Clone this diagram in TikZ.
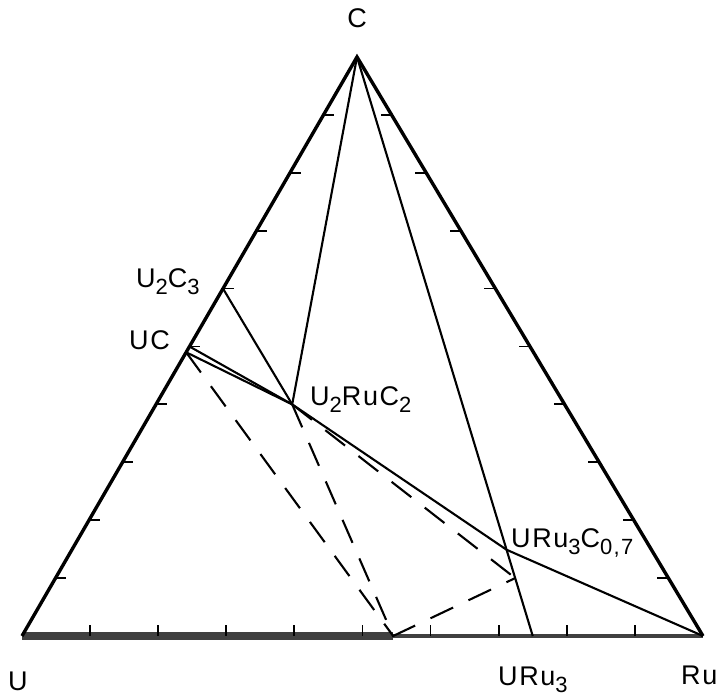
\documentclass[tikz,border=0pt]{standalone}
\usepackage{fontspec}
\setmainfont[LetterSpace=6]{Liberation Sans}
\newcommand{\idx}[1]{\raisebox{-7pt}{\fontsize{22}{23}\selectfont #1}}

\begin{document}
\begin{tikzpicture}[x=1pt,y=-1pt,
  lbl/.style={inner sep=0,font=\fontsize{27}{30}\selectfont},
  edge/.style={line width=3.4pt,line join=miter},
  tie/.style={line width=2.1pt},
  dsh/.style={line width=2.1pt,dash pattern=on 25pt off 17pt},
  tck/.style={line width=1.8pt}]
\useasboundingbox (0,0) rectangle (720,700);
\coordinate (U) at (22,636);
\coordinate (Ru) at (703,636);
\coordinate (C) at (357,57);
% phases
\coordinate (UC) at (barycentric cs:U=0.51,C=0.49);
\coordinate (UCt) at (barycentric cs:U=0.5,C=0.5);
\coordinate (U2C3) at (barycentric cs:U=0.4,C=0.6);
\coordinate (U2RuC2) at (barycentric cs:U=0.4,Ru=0.2,C=0.4);
\coordinate (URu3C) at (barycentric cs:U=1,Ru=3,C=0.7);
\coordinate (URu3) at (barycentric cs:U=1,Ru=3);
\coordinate (X) at (barycentric cs:U=0.455,Ru=0.545);
\coordinate (D) at (barycentric cs:U=0.225,Ru=0.675,C=0.1);
% base line
\draw[line width=4.5pt,black!75] (U) -- (Ru);
\draw[line width=8pt,black!75] (U) -- (X);
\draw[edge] (U) -- (C) -- (Ru);
\foreach \i [evaluate=\i as \j using 10-\i] in {1,...,9}{
  \draw[tck] (barycentric cs:U=\j,Ru=\i) -- ++(0,-11);
  \draw[tck] (barycentric cs:U=\j,C=\i) -- ++(11,0);
  \draw[tck] (barycentric cs:Ru=\j,C=\i) -- ++(-11,0);
}
% tie lines
\draw[tie] (C) -- (U2RuC2);
\draw[tie] (C) -- (URu3);
\draw[tie] (U2C3) -- (U2RuC2);
\draw[tie] (UCt) -- (U2RuC2);
\draw[tie] (UC) -- (U2RuC2) -- (URu3C) -- (Ru);
\draw[dsh] (UC) -- (X);
\draw[dsh] (U2RuC2) -- (X) -- (D);
\draw[dsh] (U2RuC2) -- (D);
% labels
\node[lbl,anchor=base] (lC) at (357,28) {C};
\node[lbl,anchor=base west] (lU) at (8,690) {U};
\node[lbl,anchor=base west] (lRu) at (681,684) {Ru};
\node[lbl,anchor=base west] (lURu3) at (498,685) {URu\idx{3}};
\node[lbl,anchor=base east] (lUC) at (170,350) {UC};
\node[lbl,anchor=base west] (lU2C3) at (136,288) {U\idx{2}C\idx{3}};
\node[lbl,anchor=base west] (lU2RuC2) at (310,405) {U\idx{2}RuC\idx{2}};
\node[lbl,anchor=base west] (lURu3C) at (511,547) {URu\idx{3}C\idx{0,7}};
\end{tikzpicture}
\end{document}
